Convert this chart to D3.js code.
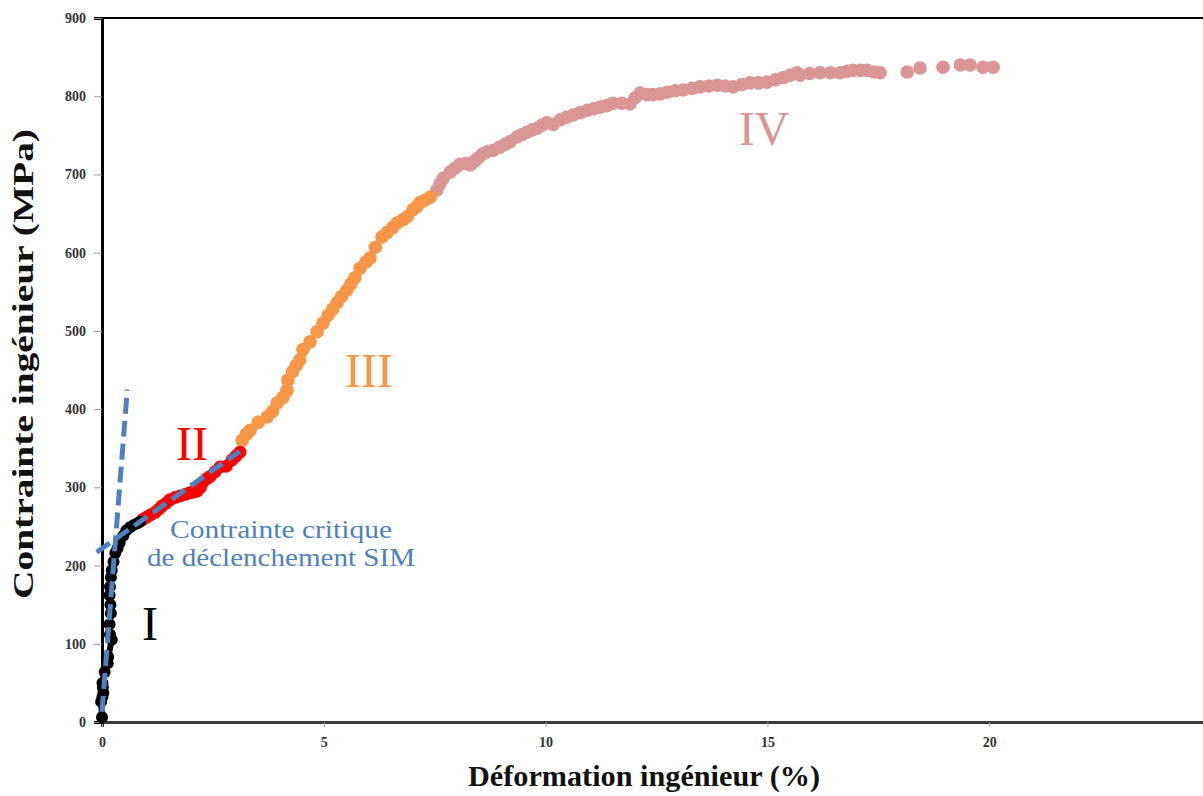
<!DOCTYPE html>
<html>
<head>
<meta charset="utf-8">
<script src="https://cdn.jsdelivr.net/npm/d3@7/dist/d3.min.js"></script>
<style>
  html, body { margin: 0; padding: 0; background: #fff; }
  svg { display: block; }
</style>
</head>
<body>
<svg id="chart" width="1203" height="796"></svg>
<script>
// ---------- data ----------
const xTicks = [0, 5, 10, 15, 20, 25];
const yTicks = [0, 100, 200, 300, 400, 500, 600, 700, 800, 900];

// Region I (black, markers + line)
const blackX = [0.00, -0.02, 0.01, 0.03, 0.02, 0.01, 0.06, 0.13, 0.14, 0.22, 0.18, 0.17, 0.20, 0.19, 0.17, 0.18, 0.20, 0.22, 0.26, 0.30, 0.35, 0.40, 0.48, 0.55, 0.63, 0.72, 0.80, 0.86];
const blackY = [6, 26, 32, 37, 44, 50, 64, 75, 83, 105, 112, 125, 139, 150, 162, 173, 185, 194, 205, 216, 222, 229, 238, 245, 249, 252, 254, 256];

// Region II (red, markers + line)
const redX = [0.92, 1.01, 1.10, 1.20, 1.28, 1.35, 1.45, 1.53, 1.65, 1.76, 1.88, 1.98, 2.06, 2.14, 2.22, 2.28, 2.36, 2.44, 2.55, 2.66, 2.80, 2.93, 3.02, 3.11];
const redY = [259, 262, 265, 268, 272, 276, 280, 284, 287, 289, 291, 293, 294, 295, 300, 307, 311, 314, 320, 326, 327, 335, 340, 345];

// Region III (orange markers)
const orangeX = [3.16, 3.25, 3.34, 3.52, 3.72, 3.84, 3.95, 4.08, 4.17, 4.19, 4.30, 4.38, 4.46, 4.53, 4.69, 4.85, 4.98, 5.10, 5.20, 5.30, 5.40, 5.52, 5.61, 5.70, 5.82, 5.95, 6.04, 6.16, 6.31, 6.43, 6.55, 6.65, 6.78, 6.88, 7.01, 7.10, 7.17, 7.28, 7.40];
const orangeY = [360, 368, 373, 383, 390, 397, 408, 415, 424, 437, 448, 456, 463, 476, 486, 499, 510, 520, 528, 536, 544, 552, 560, 568, 580, 588, 593, 607, 620, 626, 632, 638, 642, 646, 655, 659, 664, 667, 671];

// Region IV (pink markers)
const pinkX = [7.55, 7.62, 7.69, 7.85, 7.96, 8.07, 8.20, 8.30, 8.40, 8.48, 8.58, 8.68, 8.82, 8.97, 9.10, 9.20, 9.36, 9.47, 9.58, 9.70, 9.81, 9.92, 10.03, 10.17, 10.33, 10.47, 10.62, 10.78, 10.94, 11.08, 11.23, 11.38, 11.52, 11.72, 11.90, 12.02, 12.13, 12.29, 12.42, 12.58, 12.74, 12.92, 13.10, 13.30, 13.48, 13.68, 13.87, 14.05, 14.23, 14.42, 14.61, 14.80, 14.99, 15.18, 15.36, 15.52, 15.67, 15.74, 15.95, 16.19, 16.42, 16.64, 16.80, 16.93, 17.10, 17.25, 17.40, 17.54, 18.15, 18.44, 18.96, 19.35, 19.57, 19.86, 20.09];
const pinkY = [680, 688, 695, 703, 708, 713, 714, 712, 717, 721, 726, 729, 731, 735, 739, 742, 748, 751, 754, 757, 759, 763, 766, 764, 770, 773, 776, 779, 782, 784, 786, 788, 791, 791, 790, 798, 804, 802, 802, 803, 805, 807, 808, 810, 812, 813, 814, 813, 812, 815, 817, 817, 818, 821, 824, 827, 830, 827, 829, 830, 830, 830, 832, 833, 833, 833, 831, 830, 831, 836, 837, 840, 840, 837, 837];

// Dashed fit lines
const fitIX = [0.00, 0.57];
const fitIY = [13, 425];
const fitIIX = [-0.12, 3.10];
const fitIIY = [217, 346];

// ---------- drawing ----------
const svg = d3.select("#chart");
const x = d3.scaleLinear().domain([0, 25]).range([102, 1211]);
const y = d3.scaleLinear().domain([0, 900]).range([722, 18]);

const serif = "'Liberation Serif', 'DejaVu Serif', serif";
const zip = (xs, ys) => xs.map((v, i) => [v, ys[i]]);

// top frame line
svg.append("line")
  .attr("x1", x(0)).attr("x2", 1203)
  .attr("y1", y(900)).attr("y2", y(900))
  .attr("stroke", "#000").attr("stroke-width", 2);

// x axis
const xAxis = svg.append("g")
  .attr("transform", `translate(0,${y(0)})`)
  .call(d3.axisBottom(x).tickValues(xTicks).tickSize(5).tickPadding(10).tickFormat(d3.format("d")));
xAxis.select(".domain").attr("stroke", "#3a3a3a").attr("stroke-width", 3);
xAxis.selectAll(".tick line").attr("stroke", "#999").attr("stroke-width", 1);
xAxis.selectAll(".tick text")
  .attr("font-family", serif).attr("font-size", 14).attr("font-weight", "bold").attr("fill", "#333");

// y axis
const yAxis = svg.append("g")
  .attr("transform", `translate(${x(0)},0)`)
  .call(d3.axisLeft(y).tickValues(yTicks).tickSize(8).tickPadding(8).tickFormat(d3.format("d")));
yAxis.select(".domain").attr("stroke", "#000").attr("stroke-width", 3);
yAxis.selectAll(".tick line").attr("stroke", "#999").attr("stroke-width", 1);
yAxis.selectAll(".tick text")
  .attr("font-family", serif).attr("font-size", 14).attr("font-weight", "bold").attr("fill", "#333");

// axis titles
svg.append("text")
  .attr("x", 644).attr("y", 786)
  .attr("text-anchor", "middle")
  .attr("font-family", serif).attr("font-weight", "bold").attr("font-size", 29)
  .attr("textLength", 352).attr("lengthAdjust", "spacingAndGlyphs")
  .attr("fill", "#111")
  .text("Déformation ingénieur (%)");

svg.append("text")
  .attr("transform", "translate(33,364) rotate(-90)")
  .attr("text-anchor", "middle")
  .attr("font-family", serif).attr("font-weight", "bold").attr("font-size", 30)
  .attr("textLength", 470).attr("lengthAdjust", "spacingAndGlyphs")
  .attr("fill", "#111")
  .text("Contrainte ingénieur (MPa)");

const line = d3.line().x(d => x(d[0])).y(d => y(d[1]));

// Region IV
svg.append("g").selectAll("circle").data(zip(pinkX, pinkY)).join("circle")
  .attr("cx", d => x(d[0])).attr("cy", d => y(d[1])).attr("r", 6.8)
  .attr("fill", "#d99694");

// Region III
svg.append("g").selectAll("circle").data(zip(orangeX, orangeY)).join("circle")
  .attr("cx", d => x(d[0])).attr("cy", d => y(d[1])).attr("r", 6.8)
  .attr("fill", "#f79646");

// Region II
svg.append("path").datum(zip(redX, redY))
  .attr("d", line).attr("fill", "none").attr("stroke", "#ff0000").attr("stroke-width", 6);
svg.append("g").selectAll("circle").data(zip(redX, redY)).join("circle")
  .attr("cx", d => x(d[0])).attr("cy", d => y(d[1])).attr("r", 6.5)
  .attr("fill", "#ff0000");

// Region I
svg.append("path").datum(zip(blackX, blackY))
  .attr("d", line).attr("fill", "none").attr("stroke", "#000").attr("stroke-width", 6);
svg.append("g").selectAll("circle").data(zip(blackX, blackY)).join("circle")
  .attr("cx", d => x(d[0])).attr("cy", d => y(d[1])).attr("r", 6)
  .attr("fill", "#000");

// dashed fits
[[fitIX, fitIY], [fitIIX, fitIIY]].forEach(([xs, ys]) => {
  svg.append("path").datum(zip(xs, ys))
    .attr("d", line).attr("fill", "none")
    .attr("stroke", "#4f81bd").attr("stroke-width", 5)
    .attr("stroke-dasharray", "16,7");
});

// annotations
svg.append("text").attr("x", 281).attr("y", 538).attr("text-anchor", "middle")
  .attr("font-family", serif).attr("font-size", 25).attr("fill", "#4f81bd")
  .attr("textLength", 222).attr("lengthAdjust", "spacingAndGlyphs")
  .text("Contrainte critique");
svg.append("text").attr("x", 281).attr("y", 566).attr("text-anchor", "middle")
  .attr("font-family", serif).attr("font-size", 25).attr("fill", "#4f81bd")
  .attr("textLength", 268).attr("lengthAdjust", "spacingAndGlyphs")
  .text("de déclenchement SIM");

const roman = [
  { t: "I", cx: 150, by: 640, c: "#000" },
  { t: "II", cx: 192, by: 460, c: "#ff0000" },
  { t: "III", cx: 369, by: 387, c: "#f79646" },
  { t: "IV", cx: 764, by: 145, c: "#d99694" }
];
svg.append("g").selectAll("text").data(roman).join("text")
  .attr("x", d => d.cx).attr("y", d => d.by).attr("text-anchor", "middle")
  .attr("font-family", serif).attr("font-size", 48).attr("fill", d => d.c)
  .text(d => d.t);
</script>
</body>
</html>
